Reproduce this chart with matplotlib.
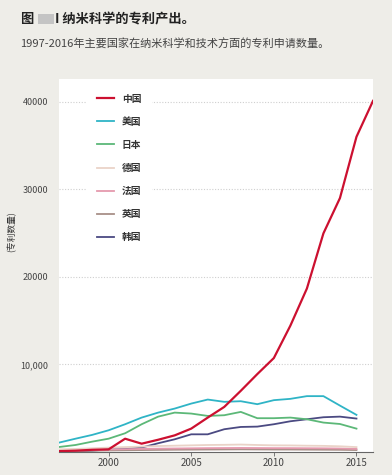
import matplotlib
matplotlib.use('Agg')
import matplotlib.pyplot as plt
from matplotlib.patches import Rectangle
from matplotlib.ticker import FixedLocator, FixedFormatter

plt.rcParams['font.family'] = ['Noto Sans CJK SC', 'DejaVu Sans']

# 데이터
years = list(range(1997, 2016))
years_cn = list(range(1997, 2017))
china = [100, 150, 250, 300, 1520, 950, 1400, 1900, 2670, 3930, 5150, 6990,
         8900, 10730, 14430, 18670, 24970, 29000, 36000, 40100]
usa = [1070, 1520, 1950, 2480, 3170, 3930, 4500, 4960, 5530, 5990, 5730, 5800,
       5460, 5920, 6070, 6380, 6380, 5300, 4240]
japan = [570, 800, 1180, 1520, 2140, 3170, 4040, 4500, 4390, 4120, 4200, 4580,
         3860, 3860, 3930, 3740, 3360, 3200, 2670]
germany = [300, 350, 420, 500, 560, 620, 680, 720, 760, 800, 820, 850,
           800, 760, 750, 720, 700, 650, 560]
france = [150, 180, 220, 280, 320, 350, 380, 400, 420, 440, 450, 460,
          450, 440, 440, 430, 420, 400, 350]
uk = [100, 120, 150, 180, 200, 220, 240, 260, 270, 280, 290, 300,
      290, 280, 280, 270, 260, 250, 220]
korea = [50, 80, 150, 300, 340, 500, 1000, 1450, 2020, 2020, 2600, 2860,
         2900, 3170, 3510, 3740, 3970, 4040, 3820]

series = [
    ('中国', years_cn, china, '#cc1030', 1.6),
    ('美国', years, usa, '#2fb4c6', 1.3),
    ('日本', years, japan, '#5cb878', 1.3),
    ('德国', years, germany, '#ead3c8', 1.3),
    ('法国', years, france, '#e59aae', 1.3),
    ('英国', years, uk, '#a89088', 1.3),
    ('韩国', years, korea, '#4b4a82', 1.3),
]

y_ticks = [10000, 20000, 30000, 40000]
y_labels = ['10,000', '20000', '30000', '40000']
x_ticks = [2000, 2005, 2010, 2015]

bg = '#eeede8'
fig = plt.figure(figsize=(3.92, 4.75), dpi=100, facecolor=bg)
ax = fig.add_axes([59 / 392, 23 / 475, 314 / 392, 373 / 475])
ax.set_facecolor('white')

# 그리드
for y in y_ticks:
    ax.axhline(y, color='#cfcfcf', linestyle=(0, (1, 1.5)), linewidth=0.8, zorder=0)

for name, xs, ys, col, lw in series[::-1]:
    ax.plot(xs, ys, color=col, linewidth=lw, label=name, solid_joinstyle='round')

ax.set_xlim(1997, 2016)
ax.set_ylim(0, 42600)
for s in ['top', 'right', 'left']:
    ax.spines[s].set_visible(False)
ax.spines['bottom'].set_color('#666666')
ax.spines['bottom'].set_linewidth(0.8)

ax.yaxis.set_major_locator(FixedLocator(y_ticks))
ax.yaxis.set_major_formatter(FixedFormatter(y_labels))
ax.tick_params(axis='y', length=0, labelsize=6.5, labelcolor='#444444', pad=8)
ax.set_xticks(x_ticks)
ax.tick_params(axis='x', length=3, width=0.6, color='#666666', labelsize=7,
               labelcolor='#444444', pad=1)

handles, labels = ax.get_legend_handles_labels()
leg = ax.legend(handles[::-1], labels[::-1], loc='upper left',
                bbox_to_anchor=(23 / 314, 1.0), frameon=True,
                facecolor='white', edgecolor='white', framealpha=1,
                fontsize=7, labelspacing=1.35, handlelength=1.8,
                handletextpad=0.8, borderpad=1.0)
for t in leg.get_texts():
    t.set_fontweight('bold')
    t.set_color('#333333')
leg.set_zorder(1)

fig.text(12 / 392, 1 - 232 / 475, '(专利数量)', rotation=90, ha='center',
         va='center', fontsize=6.3, color='#333333')

# 제목
fig.text(20 / 392, 1 - 19 / 475, '图', fontsize=9.5, fontweight='bold',
         va='center', color='#222222')
fig.patches.append(Rectangle((38 / 392, 1 - 24 / 475), 16 / 392, 10 / 475,
                             transform=fig.transFigure, facecolor='#c4c4c4',
                             edgecolor='none'))
fig.text(55 / 392, 1 - 19 / 475, 'I 纳米科学的专利产出。', fontsize=9.5,
         fontweight='bold', va='center', color='#222222')
fig.text(20 / 392, 1 - 44 / 475,
         '1997-2016年主要国家在纳米科学和技术方面的专利申请数量。',
         fontsize=8, va='center', color='#444444')

fig.savefig('out.png', dpi=100, facecolor=bg)
